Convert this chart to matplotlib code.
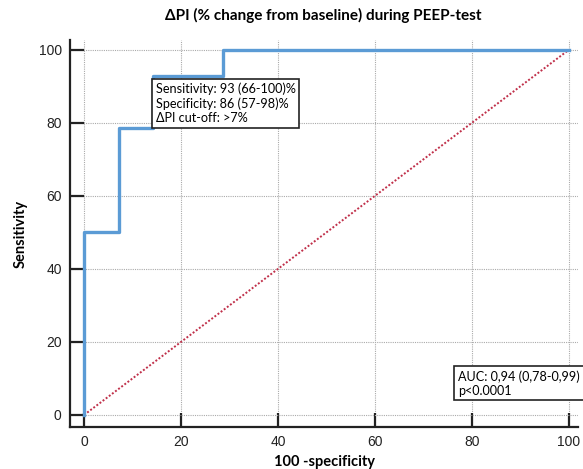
import matplotlib
matplotlib.use('Agg')
import matplotlib.pyplot as plt

# ROC curve (14 negatives, 14 positives)
fpr = [0, 0, 7.14, 7.14, 14.29, 14.29, 28.57, 28.57, 100]
tpr = [0, 50, 50, 78.57, 78.57, 92.86, 92.86, 100, 100]
ref_x = [0, 100]
ref_y = [0, 100]
ticks = [0, 20, 40, 60, 80, 100]

title = '\u0394PI (% change from baseline) during PEEP-test'
box_cutoff = 'Sensitivity: 93 (66-100)%\nSpecificity: 86 (57-98)%\n\u0394PI cut-off: >7%'
box_auc = 'AUC: 0,94 (0,78-0,99)\np<0.0001'

fig = plt.figure(figsize=(5.83, 4.69), dpi=100)
ax = fig.add_axes([70 / 583, 42 / 469, 508 / 583, 387 / 469])

ax.plot(ref_x, ref_y, color='#c0304a', linestyle=(0, (1, 1)), linewidth=1.4, zorder=2)
ax.plot(fpr, tpr, color='#5b9bd5', linewidth=2.4, zorder=3)

ax.set_xlim(-2.9, 101.9)
ax.set_ylim(-3.3, 102.7)
ax.set_xticks(ticks)
ax.set_yticks(ticks)
ax.grid(True, color='#aaaaaa', linestyle=(0, (1, 1)), linewidth=0.8)
ax.set_axisbelow(True)

for side in ['top', 'right']:
    ax.spines[side].set_visible(False)
for side in ['left', 'bottom']:
    ax.spines[side].set_linewidth(1.6)
    ax.spines[side].set_color('#222222')

ax.tick_params(direction='in', length=10, width=1.6, color='#222222',
               labelsize=10, labelcolor='#222222', pad=6)
for lab in ax.get_xticklabels() + ax.get_yticklabels():
    lab.set_family('Liberation Sans')

ax.set_xlabel('100 -specificity', fontsize=10.5, fontweight='bold', family='Lato', labelpad=4)
ax.set_ylabel('Sensitivity', fontsize=10.5, fontweight='bold', family='Lato', labelpad=8)
fig.text(0.555, 0.968, title, ha='center', va='center', fontsize=11,
         fontweight='bold', family='Lato')

bbox = dict(boxstyle='square,pad=0.3', facecolor='white', edgecolor='#222222', linewidth=1.2)
ax.text(14.8, 91.0, box_cutoff, ha='left', va='top', fontsize=9.1, family='Lato',
        linespacing=1.2, bbox=bbox, zorder=5)
ax.text(77.2, 12.3, box_auc, ha='left', va='top', fontsize=9.1, family='Lato',
        linespacing=1.2, bbox=bbox, zorder=5)

fig.savefig('out.png', dpi=100)
